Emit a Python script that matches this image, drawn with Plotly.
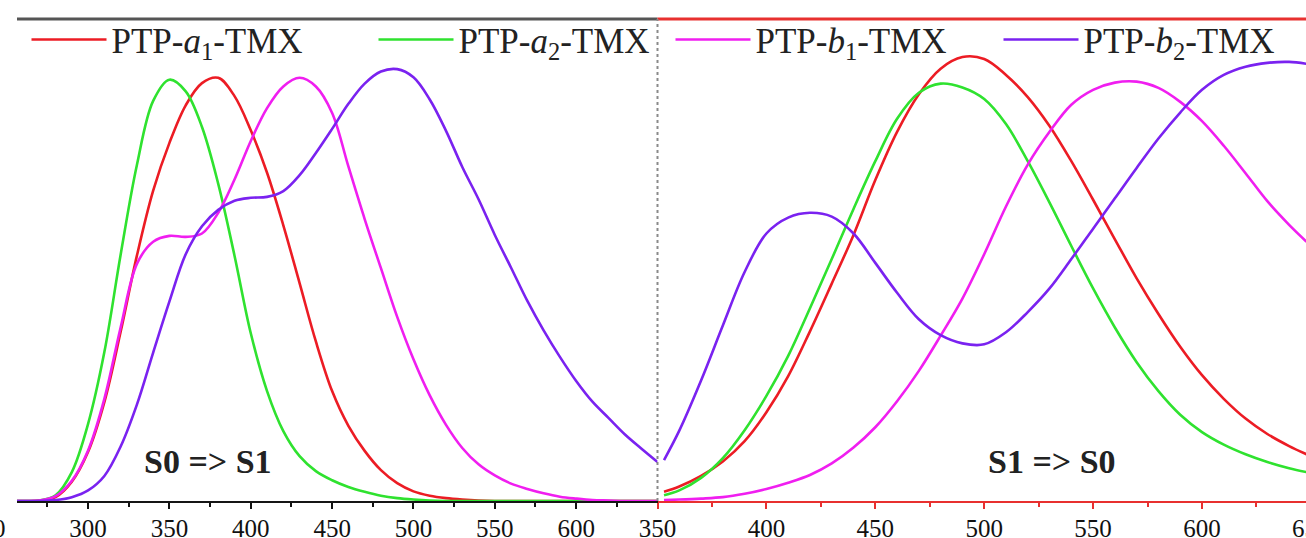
import plotly.graph_objects as go

# ---------------- data ----------------
# Left panel: S0 => S1 (absorption); wavelength (nm) and normalized intensity
abs_wl = [250, 260, 270, 280, 290, 300, 310, 320, 330, 340, 350, 360, 370, 380, 390, 400,
          410, 420, 430, 440, 450, 460, 470, 480, 490, 500, 510, 520, 530, 540, 550, 560,
          570, 580, 590, 600, 610, 620, 630, 640, 650]
abs_a1 = [0, 0, 0.001, 0.008, 0.040, 0.102, 0.205, 0.351, 0.509, 0.644, 0.743, 0.821, 0.867,
          0.878, 0.840, 0.769, 0.681, 0.572, 0.452, 0.331, 0.228, 0.156, 0.104, 0.064, 0.037,
          0.020, 0.011, 0.006, 0.003, 0.001, 0, 0, 0, 0, 0, 0, 0, 0, 0, 0, 0]
abs_a2 = [0, 0, 0.001, 0.012, 0.060, 0.160, 0.309, 0.511, 0.697, 0.830, 0.874, 0.850, 0.776,
          0.658, 0.509, 0.348, 0.228, 0.145, 0.093, 0.062, 0.043, 0.029, 0.019, 0.011, 0.006,
          0.003, 0.001, 0, 0, 0, 0, 0, 0, 0, 0, 0, 0, 0, 0, 0, 0]
abs_b1 = [0, 0, 0.001, 0.010, 0.042, 0.105, 0.212, 0.360, 0.492, 0.538, 0.550, 0.548, 0.555,
          0.598, 0.667, 0.747, 0.815, 0.860, 0.878, 0.860, 0.805, 0.694, 0.585, 0.483, 0.382,
          0.294, 0.219, 0.158, 0.110, 0.076, 0.053, 0.036, 0.025, 0.016, 0.009, 0.005, 0.002,
          0.001, 0, 0, 0]
abs_b2 = [0, 0, 0, 0.002, 0.008, 0.022, 0.052, 0.113, 0.200, 0.308, 0.414, 0.512, 0.570,
          0.604, 0.623, 0.629, 0.631, 0.643, 0.676, 0.722, 0.772, 0.824, 0.866, 0.891, 0.896,
          0.879, 0.833, 0.768, 0.693, 0.626, 0.552, 0.484, 0.415, 0.354, 0.299, 0.249, 0.206,
          0.172, 0.138, 0.109, 0.081]

# Right panel: S1 => S0 (emission)
emi_wl = [353, 360, 370, 380, 390, 400, 410, 420, 430, 440, 450, 460, 470, 480, 490, 500,
          510, 520, 530, 540, 550, 560, 570, 580, 590, 600, 610, 620, 630, 640, 648]
emi_a1 = [0.019, 0.030, 0.052, 0.082, 0.124, 0.184, 0.259, 0.352, 0.451, 0.552, 0.666, 0.766,
          0.844, 0.897, 0.921, 0.917, 0.884, 0.838, 0.778, 0.705, 0.625, 0.543, 0.462, 0.388,
          0.320, 0.261, 0.212, 0.171, 0.139, 0.114, 0.097]
emi_a2 = [0.012, 0.022, 0.048, 0.089, 0.147, 0.218, 0.301, 0.400, 0.502, 0.606, 0.705, 0.793,
          0.847, 0.866, 0.858, 0.834, 0.782, 0.705, 0.619, 0.529, 0.441, 0.360, 0.288, 0.228,
          0.179, 0.143, 0.117, 0.097, 0.081, 0.068, 0.060]
emi_b1 = [0.002, 0.003, 0.005, 0.008, 0.015, 0.025, 0.038, 0.054, 0.078, 0.111, 0.153, 0.207,
          0.270, 0.343, 0.420, 0.512, 0.611, 0.698, 0.766, 0.822, 0.853, 0.868, 0.870, 0.857,
          0.828, 0.788, 0.737, 0.680, 0.622, 0.573, 0.538]
emi_b2 = [0.085, 0.146, 0.250, 0.364, 0.475, 0.555, 0.588, 0.598, 0.590, 0.555, 0.494, 0.432,
          0.377, 0.344, 0.327, 0.325, 0.350, 0.392, 0.441, 0.502, 0.565, 0.628, 0.691, 0.752,
          0.806, 0.853, 0.884, 0.901, 0.909, 0.911, 0.907]

series_names = ["PTP-<i>a</i><sub>1</sub>-TMX", "PTP-<i>a</i><sub>2</sub>-TMX",
                "PTP-<i>b</i><sub>1</sub>-TMX", "PTP-<i>b</i><sub>2</sub>-TMX"]
series_colors = ["#ec1c24", "#2fe22f", "#f01ef0", "#7a22f0"]

left_ticks = [300, 350, 400, 450, 500, 550, 600]
right_ticks = [350, 400, 450, 500, 550, 600]
left_edge_label = "250"
right_edge_tick = 650
panel_labels = ["S0 =&gt; S1", "S1 =&gt; S0"]

# ---------------- figure ----------------
W, H = 1306, 538
LEFT0 = 17 / W
SPLIT = 657.5 / W
FONT = "Liberation Serif"
RED_AX = "#e8302f"
LEFT_RANGE = [256.3, 650]
RIGHT_RANGE = [350, 647.75]

abs_series = [abs_a1, abs_a2, abs_b1, abs_b2]
emi_series = [emi_a1, emi_a2, emi_b1, emi_b2]
legend_ids = ["legend", "legend2", "legend3", "legend4"]

fig = go.Figure()
for i, v in enumerate(abs_series):
    fig.add_trace(go.Scatter(x=abs_wl, y=v, mode="lines", name=series_names[i],
                             line=dict(color=series_colors[i], width=2.6, shape="spline", smoothing=1.0),
                             xaxis="x", yaxis="y", legend=legend_ids[i], showlegend=True))
for i, v in enumerate(emi_series):
    fig.add_trace(go.Scatter(x=emi_wl, y=v, mode="lines", name=series_names[i],
                             line=dict(color=series_colors[i], width=2.6, shape="spline", smoothing=1.0),
                             xaxis="x2", yaxis="y2", showlegend=False))

common_x = dict(showgrid=False, zeroline=False, showline=True, linewidth=2, mirror=False,
                ticks="outside", ticklen=6, tickwidth=2, automargin=False,
                tickfont=dict(family=FONT, size=25, color="#111"),
                ticklabeloverflow="allow", ticklabelstandoff=-2)

fig.update_layout(
    width=W, height=H,
    margin=dict(l=0, r=0, t=19, b=37, autoexpand=False),
    paper_bgcolor="white", plot_bgcolor="white",
    xaxis=dict(domain=[LEFT0, SPLIT], range=LEFT_RANGE, anchor="y",
               tickmode="array", tickvals=left_ticks, linecolor="#151515", tickcolor="#111",
               minor=dict(dtick=25, tick0=250, ticks="outside", ticklen=4, tickwidth=1.5, tickcolor="#111"),
               **common_x),
    xaxis2=dict(domain=[SPLIT, 1], range=RIGHT_RANGE, anchor="y2",
                tickmode="array", tickvals=right_ticks, linecolor=RED_AX, tickcolor=RED_AX,
                minor=dict(dtick=25, tick0=350, ticks="outside", ticklen=4, tickwidth=1.5, tickcolor=RED_AX),
                **common_x),
    yaxis=dict(domain=[0, 1], range=[0, 1], anchor="x", visible=False),
    yaxis2=dict(domain=[0, 1], range=[0, 1], anchor="x2", visible=False),
    showlegend=True,
)

legend_x_px = [26.5, 373.5, 670.5, 998.5]
for lid, xp in zip(legend_ids, legend_x_px):
    fig.update_layout({lid: dict(x=xp / W, y=0.957, xanchor="left", yanchor="middle",
                                 orientation="h", bgcolor="rgba(0,0,0,0)", itemwidth=75,
                                 font=dict(family=FONT, size=35, color="#222"))})

fig.add_annotation(x=373.5, y=0.082, xref="x", yref="y", text="<b>" + panel_labels[0] + "</b>",
                   showarrow=False, font=dict(family=FONT, size=34, color="#222"))
fig.add_annotation(x=531, y=0.082, xref="x2", yref="y2", text="<b>" + panel_labels[1] + "</b>",
                   showarrow=False, font=dict(family=FONT, size=34, color="#222"))

# partially visible tick labels cut by the picture edges
edge_paper = SPLIT + (right_edge_tick - RIGHT_RANGE[0]) / (RIGHT_RANGE[1] - RIGHT_RANGE[0]) * (1 - SPLIT)
fig.add_annotation(x=edge_paper, y=0, xref="paper", yref="paper", yanchor="top", yshift=-12,
                   xanchor="center", text=str(right_edge_tick), showarrow=False,
                   font=dict(family=FONT, size=25, color="#111"))
fig.add_annotation(x=8 / W, y=0, xref="paper", yref="paper", yanchor="top", yshift=-12,
                   xanchor="right", text=left_edge_label, showarrow=False,
                   font=dict(family=FONT, size=25, color="#111"))

# top frame lines of the two panels and the dotted divider
fig.add_shape(type="line", xref="x domain", yref="paper", x0=0, x1=1, y0=1, y1=1,
              line=dict(color="#555555", width=3))
fig.add_shape(type="line", xref="x2 domain", yref="paper", x0=0, x1=1, y0=1, y1=1,
              line=dict(color=RED_AX, width=3))
fig.add_shape(type="line", xref="paper", yref="paper", x0=SPLIT, x1=SPLIT, y0=0, y1=1,
              line=dict(color="#8a8a8a", width=2, dash="dot"))

fig.write_html("out.html", config={"displayModeBar": False},
               post_script="document.body.style.margin='0';document.body.style.padding='0';")
